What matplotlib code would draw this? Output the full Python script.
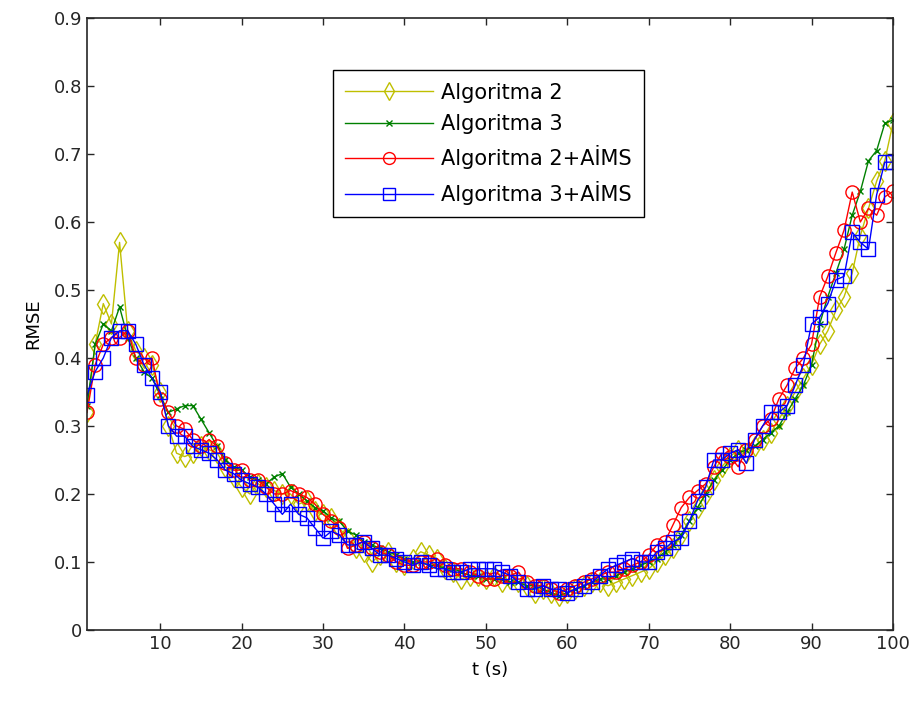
import numpy as np
import matplotlib.pyplot as plt

t = np.arange(1, 101)

alg2 = [0.32, 0.42, 0.48, 0.45, 0.57, 0.44, 0.41, 0.40, 0.39, 0.35,
        0.30, 0.26, 0.255, 0.26, 0.27, 0.265, 0.26, 0.24, 0.225, 0.21,
        0.20, 0.215, 0.21, 0.205, 0.20, 0.20, 0.185, 0.19, 0.175, 0.17,
        0.165, 0.15, 0.135, 0.12, 0.115, 0.10, 0.11, 0.115, 0.10, 0.095,
        0.105, 0.115, 0.11, 0.105, 0.09, 0.085, 0.075, 0.08, 0.08, 0.075,
        0.08, 0.07, 0.075, 0.07, 0.065, 0.055, 0.06, 0.055, 0.05, 0.055,
        0.06, 0.065, 0.07, 0.07, 0.065, 0.07, 0.075, 0.08, 0.085, 0.09,
        0.10, 0.11, 0.12, 0.14, 0.16, 0.18, 0.20, 0.22, 0.24, 0.255,
        0.265, 0.26, 0.27, 0.28, 0.29, 0.31, 0.33, 0.35, 0.37, 0.39,
        0.42, 0.44, 0.47, 0.49, 0.525, 0.58, 0.62, 0.66, 0.69, 0.745]

alg3 = [0.33, 0.42, 0.45, 0.44, 0.475, 0.43, 0.40, 0.38, 0.37, 0.345,
        0.32, 0.325, 0.33, 0.33, 0.31, 0.29, 0.27, 0.25, 0.24, 0.235,
        0.225, 0.22, 0.215, 0.225, 0.23, 0.21, 0.20, 0.19, 0.18, 0.175,
        0.165, 0.16, 0.145, 0.14, 0.13, 0.125, 0.12, 0.115, 0.11, 0.105,
        0.10, 0.10, 0.095, 0.095, 0.09, 0.09, 0.085, 0.08, 0.08, 0.075,
        0.075, 0.075, 0.07, 0.07, 0.065, 0.065, 0.06, 0.055, 0.05, 0.055,
        0.06, 0.065, 0.07, 0.075, 0.075, 0.08, 0.085, 0.09, 0.095, 0.10,
        0.105, 0.115, 0.125, 0.14, 0.16, 0.18, 0.20, 0.22, 0.235, 0.25,
        0.26, 0.265, 0.27, 0.28, 0.29, 0.30, 0.32, 0.34, 0.36, 0.39,
        0.45, 0.49, 0.525, 0.56, 0.61, 0.645, 0.69, 0.705, 0.745, 0.75]

alg2_aims = [0.32, 0.39, 0.42, 0.43, 0.43, 0.44, 0.40, 0.39, 0.40, 0.34,
             0.32, 0.30, 0.295, 0.28, 0.27, 0.28, 0.27, 0.245, 0.235, 0.235,
             0.22, 0.22, 0.21, 0.20, 0.20, 0.205, 0.20, 0.195, 0.185, 0.17,
             0.16, 0.15, 0.12, 0.125, 0.13, 0.12, 0.115, 0.11, 0.10, 0.095,
             0.095, 0.10, 0.10, 0.105, 0.095, 0.09, 0.09, 0.085, 0.08, 0.075,
             0.075, 0.08, 0.08, 0.085, 0.07, 0.065, 0.065, 0.06, 0.055, 0.06,
             0.065, 0.07, 0.075, 0.08, 0.085, 0.085, 0.09, 0.095, 0.10, 0.11,
             0.125, 0.13, 0.155, 0.18, 0.195, 0.205, 0.215, 0.24, 0.26, 0.255,
             0.24, 0.265, 0.28, 0.30, 0.31, 0.34, 0.36, 0.385, 0.40, 0.42,
             0.49, 0.52, 0.555, 0.588, 0.644, 0.60, 0.62, 0.61, 0.637, 0.645]

alg3_aims = [0.345, 0.38, 0.40, 0.43, 0.44, 0.44, 0.42, 0.39, 0.37, 0.35,
             0.30, 0.285, 0.285, 0.27, 0.265, 0.26, 0.25, 0.235, 0.23, 0.22,
             0.215, 0.21, 0.20, 0.185, 0.17, 0.185, 0.17, 0.165, 0.15, 0.135,
             0.145, 0.14, 0.125, 0.125, 0.13, 0.12, 0.11, 0.11, 0.105, 0.10,
             0.095, 0.10, 0.095, 0.09, 0.09, 0.085, 0.085, 0.09, 0.09, 0.09,
             0.09, 0.085, 0.08, 0.07, 0.06, 0.06, 0.065, 0.06, 0.06, 0.055,
             0.06, 0.065, 0.07, 0.08, 0.09, 0.095, 0.10, 0.105, 0.10, 0.10,
             0.115, 0.12, 0.13, 0.135, 0.16, 0.19, 0.21, 0.25, 0.25, 0.26,
             0.265, 0.245, 0.28, 0.30, 0.32, 0.32, 0.33, 0.36, 0.39, 0.45,
             0.46, 0.48, 0.515, 0.52, 0.585, 0.57, 0.56, 0.64, 0.688, 0.688]

labels = ['Algoritma 2', 'Algoritma 3', 'Algoritma 2+AİMS', 'Algoritma 3+AİMS']

plt.rcParams['font.family'] = ['DejaVu Sans']

fig = plt.figure(figsize=(9.13, 7.07), dpi=100)
ax = fig.add_axes([0.0953, 0.109, 0.8827, 0.8655])

ax.plot(t, alg2, '-d', color=(0.75, 0.75, 0), lw=1, ms=10, mfc='none', mew=1, label=labels[0])
ax.plot(t, alg3, '-x', color=(0, 0.5, 0), lw=1, ms=5, mew=1, label=labels[1])
ax.plot(t, alg2_aims, '-o', color='red', lw=1, ms=9.5, mfc='none', mew=1, label=labels[2])
ax.plot(t, alg3_aims, '-s', color='blue', lw=1, ms=10, mfc='none', mew=1, label=labels[3])

ax.set_xlim(1, 100)
ax.set_ylim(0, 0.9)
ax.set_xticks(np.arange(10, 101, 10))
ax.set_yticks(np.arange(0, 0.91, 0.1))
ax.set_yticklabels(['0'] + ['%.1f' % v for v in np.arange(0.1, 0.91, 0.1)])
ax.tick_params(direction='in', top=True, right=True, length=5, width=1,
               labelsize=13, colors='#262626')
for s in ax.spines.values():
    s.set_linewidth(1.2)
    s.set_color('#262626')

ax.set_xlabel('t (s)', fontsize=13, labelpad=6)
ax.set_ylabel('RMSE', fontsize=13, labelpad=8)

leg = ax.legend(loc='upper left', bbox_to_anchor=(0.305, 0.915), fontsize=15,
                fancybox=False, edgecolor='black', framealpha=1,
                handlelength=4.2, handletextpad=0.4, borderpad=0.6,
                labelspacing=0.55, borderaxespad=0, markerscale=0.9)
leg.get_frame().set_linewidth(1)

plt.savefig('out.png', dpi=100)
